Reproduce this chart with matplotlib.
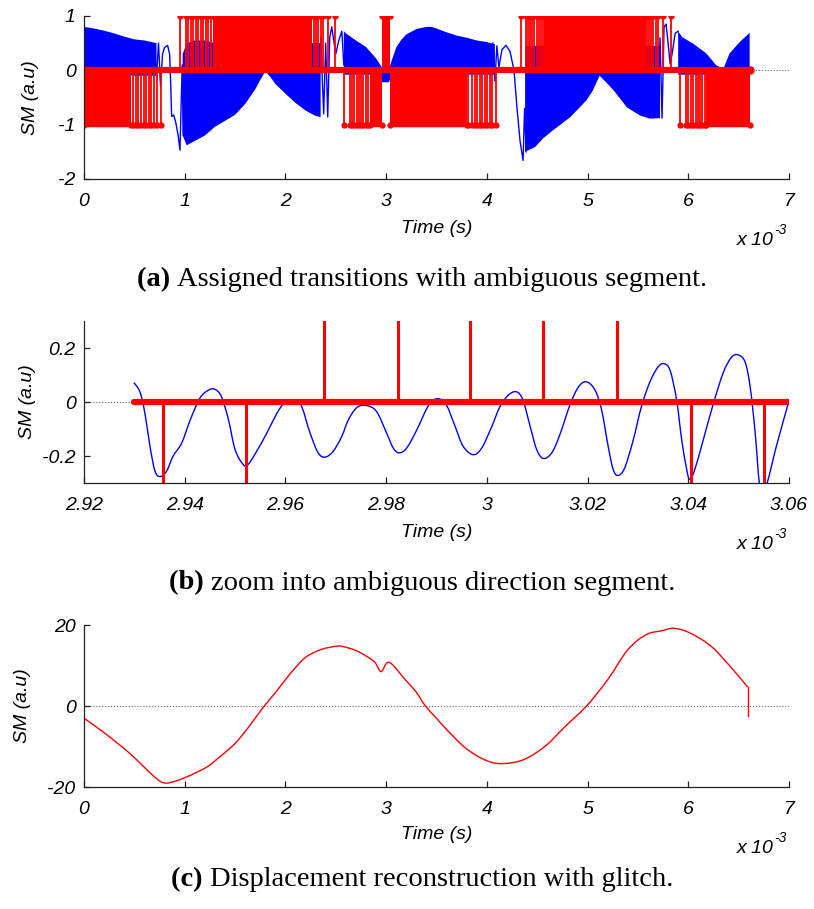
import numpy as np
import matplotlib.pyplot as plt
from matplotlib.path import Path
from matplotlib.patches import PathPatch

plt.rcParams['font.family'] = 'Liberation Sans'
plt.rcParams['axes.unicode_minus'] = False
nan = np.nan

# ---- (a) assigned transitions, time in ms ----
# blue fringe envelopes (segments separated by nan)
env_t = [0, 0.1, 0.2, 0.3, 0.4, 0.5, 0.6, 0.72, nan,
         0.98, 1.02, 1.1, 1.2, 1.3, 1.4, 1.5, 1.6, 1.7, 1.75, 1.8, 1.85, 1.9, 2.0, 2.1, 2.2, 2.3, 2.35, nan,
         2.58, 2.6, 2.7, 2.8, 2.9, 2.96, 3.03, 3.05, 3.1, 3.15, 3.2, 3.3, 3.4, 3.45, 3.5, 3.6, 3.7, 3.8, 3.9, 4.0, 4.08, nan,
         4.38, 4.48, 4.56, 4.66, 4.83, 4.99, 5.05, 5.12, 5.2, 5.26, 5.39, 5.52, 5.62, 5.72, nan,
         5.9, 5.94, 6.05, 6.18, 6.28, 6.35, 6.41, 6.51, 6.61]
env_hi = [0.8, 0.77, 0.73, 0.68, 0.62, 0.57, 0.55, 0.5, nan,
          0.3, 0.5, 0.55, 0.55, 0.5, 0.5, 0.5, 0.5, 0.5, 0.5, 0.5, 0.5, 0.5, 0.5, 0.5, 0.5, 0.5, 0.5, nan,
          0.72, 0.68, 0.55, 0.43, 0.22, 0.05, 0.02, 0.15, 0.42, 0.56, 0.66, 0.76, 0.8, 0.8, 0.77, 0.7, 0.64, 0.6, 0.55, 0.52, 0.48, nan,
          0.45, 0.45, 0.45, 0.45, 0.45, 0.45, 0.45, 0.45, 0.45, 0.45, 0.45, 0.45, 0.45, 0.45, nan,
          0.72, 0.61, 0.49, 0.31, 0.09, 0.03, 0.31, 0.52, 0.69]
env_lo = [-0.08, -0.08, -0.08, -0.08, -0.08, -0.1, -0.1, -0.1, nan,
          -1.2, -1.38, -1.3, -1.2, -1.04, -0.93, -0.82, -0.62, -0.35, -0.18, -0.02, -0.12, -0.25, -0.43, -0.6, -0.74, -0.84, -0.86, nan,
          -0.08, -0.08, -0.08, -0.08, -0.08, -0.22, -0.22, -0.08, -0.08, -0.08, -0.08, -0.08, -0.08, -0.08, -0.08, -0.08, -0.08, -0.08, -0.08, -0.08, -0.08, nan,
          -1.5, -1.41, -1.25, -1.1, -0.86, -0.55, -0.38, -0.1, -0.25, -0.37, -0.68, -0.83, -0.89, -0.88, nan,
          -0.08, -0.08, -0.08, -0.08, -0.08, -0.08, -0.08, -0.08, -0.08]

# blue sweeps where the direction changes
wig_t = [0.70, 0.72, 0.74, 0.76, 0.78, 0.80, 0.83, 0.85, 0.86, 0.87, 0.89, 0.91, 0.935, 0.953, 0.965, 0.975, 0.985, 1.0, nan,
         2.35, 2.38, 2.40, 2.42, 2.44, 2.46, 2.48, 2.50, 2.53, 2.56, 2.58, nan,
         4.06, 4.08, 4.10, 4.12, 4.15, 4.19, 4.23, 4.27, 4.30, 4.33, 4.36, 4.375, 4.39, nan,
         5.70, 5.72, 5.74, 5.76, 5.78, 5.80, 5.82, 5.84, 5.87, 5.90]
wig_v = [0.45, -0.1, 0.5, -0.3, 0.3, 0.42, 0.46, 0.3, -0.2, -0.85, -0.82, -0.95, -1.2, -1.47, -0.6, 0.1, -1.2, 0.2, nan,
         0.6, -0.8, 0.5, -0.86, 0.6, 0.8, 0.55, 0.3, 0.55, 0.72, 0.1, nan,
         0.5, -0.2, 0.45, 0.05, 0.38, 0.46, 0.35, 0.0, -0.7, -1.3, -1.66, -0.7, -1.5, nan,
         -0.85, 0.6, -0.88, 0.8, 0.85, 0.5, 0.12, 0.3, 0.68, 0.72]

# red: dense blocks of transitions and isolated transitions
blk_start = [0.0, 1.28, 2.84, 2.96, 3.035, 4.57, 6.18]
blk_end = [0.47, 2.26, 2.96, 3.035, 3.80, 5.58, 6.61]
blk_sign = [-1, 1, -1, 1, -1, 1, -1]
stems_pos = [0.95, 1.01, 1.036, 1.06, 1.085, 1.11, 1.135, 1.16, 1.185, 1.21, 1.235, 1.26,
             2.28, 2.30, 2.325, 2.35, 2.375, 2.425, 2.49,
             4.34, 4.39, 4.41, 4.43, 4.45, 4.47, 4.495, 4.52, 4.54, 4.56,
             5.59, 5.61, 5.63, 5.655, 5.68, 5.70, 5.75, 5.83]
stems_neg = [0.49, 0.516, 0.54, 0.57, 0.596, 0.62, 0.645, 0.67, 0.695, 0.72, 0.76,
             2.585, 2.64, 2.665, 2.685, 2.71, 2.73, 2.75, 2.775, 2.80, 2.82,
             3.81, 3.855, 3.88, 3.905, 3.93, 3.955, 3.98, 4.005, 4.03, 4.05, 4.095,
             5.92, 5.98, 6.0, 6.025, 6.05, 6.075, 6.095, 6.12, 6.14, 6.165]
red_end = 6.61

# ---- (b) zoom 2.93 - 3.06 ms ----
b_t = [2.9299, 2.9311, 2.9321, 2.9331, 2.9341, 2.9351, 2.9364, 2.9377, 2.9394, 2.9411,
       2.943, 2.9447, 2.946, 2.9473, 2.9487, 2.95, 2.9516, 2.9526, 2.9543, 2.9563,
       2.9583, 2.9596, 2.9606, 2.9629, 2.9649, 2.9665, 2.9679, 2.9695, 2.9712, 2.9725,
       2.9742, 2.9761, 2.9781, 2.9801, 2.9814, 2.9826, 2.9841, 2.9861, 2.9881, 2.9894,
       2.9907, 2.992, 2.9937, 2.9953, 2.9973, 2.999, 3.001, 3.0026, 3.0043, 3.0059,
       3.0072, 3.0086, 3.0099, 3.0112, 3.0129, 3.0145, 3.0165, 3.0182, 3.0198, 3.0215,
       3.0228, 3.0241, 3.0251, 3.0261, 3.0274, 3.0291, 3.0307, 3.0324, 3.034, 3.0352,
       3.0364, 3.0377, 3.0387, 3.0397, 3.0403, 3.0413, 3.043, 3.045, 3.047, 3.0486,
       3.0499, 3.0513, 3.0523, 3.0533, 3.0541, 3.0547, 3.0557, 3.0575, 3.0599]
b_v = [0.072, 0.038, -0.042, -0.164, -0.256, -0.276, -0.256, -0.2, -0.152, -0.066,
       0.014, 0.044, 0.047, 0.02, -0.066, -0.176, -0.231, -0.231, -0.182, -0.115,
       -0.042, -0.007, 0.0, -0.005, -0.115, -0.188, -0.204, -0.182, -0.127, -0.066,
       -0.02, -0.013, -0.035, -0.115, -0.17, -0.188, -0.17, -0.103, -0.023, 0.007,
       0.011, -0.011, -0.09, -0.164, -0.195, -0.17, -0.09, -0.017, 0.026, 0.038,
       0.007, -0.09, -0.176, -0.209, -0.188, -0.121, -0.011, 0.056, 0.075, 0.044,
       -0.029, -0.164, -0.25, -0.272, -0.243, -0.139, -0.017, 0.075, 0.13, 0.142,
       0.117, 0.007, -0.139, -0.25, -0.286, -0.25, -0.139, -0.005, 0.111, 0.166,
       0.175, 0.148, 0.056, -0.115, -0.298, -0.33, -0.298, -0.164, -0.003]
b_up = [2.9677, 2.9823, 2.9967, 3.0112, 3.0259]
b_down = [2.9356, 2.9522, 3.0405, 3.055]
b_start, b_end = 2.93, 3.06

# ---- (c) reconstructed displacement ----
c_t = [0, 0.2, 0.45, 0.7, 0.8, 0.9, 1.0, 1.1, 1.23, 1.35, 1.49, 1.6, 1.7, 1.79, 1.9, 2.0,
       2.1, 2.21, 2.36, 2.52, 2.6, 2.72, 2.88, 2.95, 3.03, 3.19, 3.3, 3.39, 3.5, 3.6, 3.8,
       4.01, 4.17, 4.37, 4.58, 4.78, 4.99, 5.2, 5.4, 5.58, 5.74, 5.86, 6.02, 6.23, 6.43,
       6.59, 6.59]
c_v = [-3, -6.6, -11.6, -17.5, -19, -18.6, -17.7, -16.6, -14.9, -12.5, -9.5, -6.3, -3, 0,
       3.3, 6.5, 9.5, 12.2, 14, 14.8, 14.5, 13.5, 11, 8.5, 10.8, 6.5, 3.4, 0, -3, -5.8,
       -10.6, -13.6, -14.2, -13.2, -9.9, -5, 0, 6.5, 13.9, 17.6, 18.6, 19.2, 18, 14.7,
       9.4, 4.7, -2.5]

tick_font = dict(fontsize=14, fontstyle='italic')


def smooth_path(x, y):
    # curve through the read points, drawn as cubic Bezier pieces
    x = np.asarray(x, float)
    y = np.asarray(y, float)
    n = len(x)
    verts = [(x[0], y[0])]
    codes = [Path.MOVETO]
    for i in range(n - 1):
        i0 = max(i - 1, 0)
        i3 = min(i + 2, n - 1)
        verts.append((x[i] + (x[i + 1] - x[i0]) / 6, y[i] + (y[i + 1] - y[i0]) / 6))
        verts.append((x[i + 1] - (x[i3] - x[i]) / 6, y[i + 1] - (y[i3] - y[i]) / 6))
        verts.append((x[i + 1], y[i + 1]))
        codes += [Path.CURVE4] * 3
    return Path(verts, codes)


def style(ax, xlab_y, ylab_x):
    for s in ['top', 'right']:
        ax.spines[s].set_visible(False)
    for s in ['left', 'bottom']:
        ax.spines[s].set_linewidth(0.9)
        ax.spines[s].set_color('#222222')
    ax.tick_params(direction='in', length=4, width=0.9, colors='#222222', pad=6)
    ax.tick_params(axis='x', pad=10)
    for lab in ax.get_xticklabels() + ax.get_yticklabels():
        lab.set_fontsize(14)
        lab.set_fontstyle('italic')
        lab.set_color('black')
    ax.set_xlabel('Time (s)', **tick_font)
    ax.set_ylabel('SM (a.u)', **tick_font)
    ax.xaxis.set_label_coords(0.5, xlab_y)
    ax.yaxis.set_label_coords(ylab_x, 0.5)
    ax.text(0.978, -0.38, 'x 10', transform=ax.transAxes, ha='right', va='center', **tick_font)
    ax.text(0.979, -0.315, '-3', transform=ax.transAxes, ha='left', va='center',
            fontsize=10, fontstyle='italic')


fig = plt.figure(figsize=(8.14, 9.09), dpi=100)

# (a)
ax = fig.add_axes([0.1032, 0.8031, 0.866, 0.1793])
ax.axhline(0, color='0.4', ls=':', lw=0.8, zorder=0)
ax.fill_between(env_t, env_lo, env_hi, color='blue', lw=0)
ax.plot(wig_t, wig_v, color='blue', lw=1)
for s, e, sg in zip(blk_start, blk_end, blk_sign):
    ax.fill_between([s, e], 0, sg, color='red', lw=0)
    ax.plot([s, e], [sg, sg], color='red', lw=2.5, marker='o', ms=3.5)
ax.vlines(stems_pos, 0, 1, color='red', lw=1.3)
ax.vlines(stems_neg, -1, 0, color='red', lw=1.3)
ax.plot(stems_pos, np.ones(len(stems_pos)), 'o', color='red', ms=3.5)
ax.plot(stems_neg, -np.ones(len(stems_neg)), 'o', color='red', ms=3.5)
ax.plot([0, red_end], [0, 0], color='red', lw=4.5, marker='o', ms=5)
ax.set_xlim(0, 7)
ax.set_ylim(-2, 1)
ax.set_xticks(range(8))
ax.set_yticks([-2, -1, 0, 1])
style(ax, -0.25, -0.064)

# (b)
ax = fig.add_axes([0.1032, 0.4686, 0.866, 0.1782])
ax.axhline(0, color='0.4', ls=':', lw=0.8, zorder=0)
ax.add_patch(PathPatch(smooth_path(b_t, b_v), fill=False, edgecolor='blue', lw=1))
ax.vlines(b_up, 0, 1, color='red', lw=2.2)
ax.vlines(b_down, -1, 0, color='red', lw=2.2)
ax.plot([b_start, b_end], [0, 0], color='red', lw=4.5, solid_capstyle='round')
ax.set_xlim(2.92, 3.06)
ax.set_ylim(-0.3, 0.3)
xt = [2.92, 2.94, 2.96, 2.98, 3.0, 3.02, 3.04, 3.06]
ax.set_xticks(xt)
ax.set_xticklabels(['%g' % v for v in xt])
ax.set_yticks([-0.2, 0, 0.2])
ax.set_yticklabels(['-0.2', '0', '0.2'])
style(ax, -0.253, -0.068)

# (c)
ax = fig.add_axes([0.1032, 0.1342, 0.866, 0.1782])
ax.axhline(0, color='0.4', ls=':', lw=0.8, zorder=0)
ax.add_patch(PathPatch(smooth_path(c_t[:-1], c_v[:-1]), fill=False, edgecolor='red', lw=1))
ax.plot(c_t[-2:], c_v[-2:], color='red', lw=1)
ax.set_xlim(0, 7)
ax.set_ylim(-20, 20)
ax.set_xticks(range(8))
ax.set_yticks([-20, 0, 20])
style(ax, -0.24, -0.075)

# captions
cap_font = dict(family='Liberation Serif', fontsize=20.5, va='center')
captions = [(1 - 280 / 909, '(a) ', 'Assigned transitions with ambiguous segment.'),
            (1 - 583 / 909, '(b) ', 'zoom into ambiguous direction segment.'),
            (1 - 880 / 909, '(c) ', 'Displacement reconstruction with glitch.')]
renderer = fig.canvas.get_renderer()
W = fig.get_figwidth() * fig.dpi
for y, tag, rest in captions:
    t1 = fig.text(0, y, tag, fontweight='bold', **cap_font)
    t2 = fig.text(0, y, rest, **cap_font)
    w1 = t1.get_window_extent(renderer).width
    w2 = t2.get_window_extent(renderer).width
    x0 = 422 - (w1 + w2) / 2
    t1.set_x(x0 / W)
    t2.set_x((x0 + w1) / W)

fig.savefig('out.png', dpi=100)
